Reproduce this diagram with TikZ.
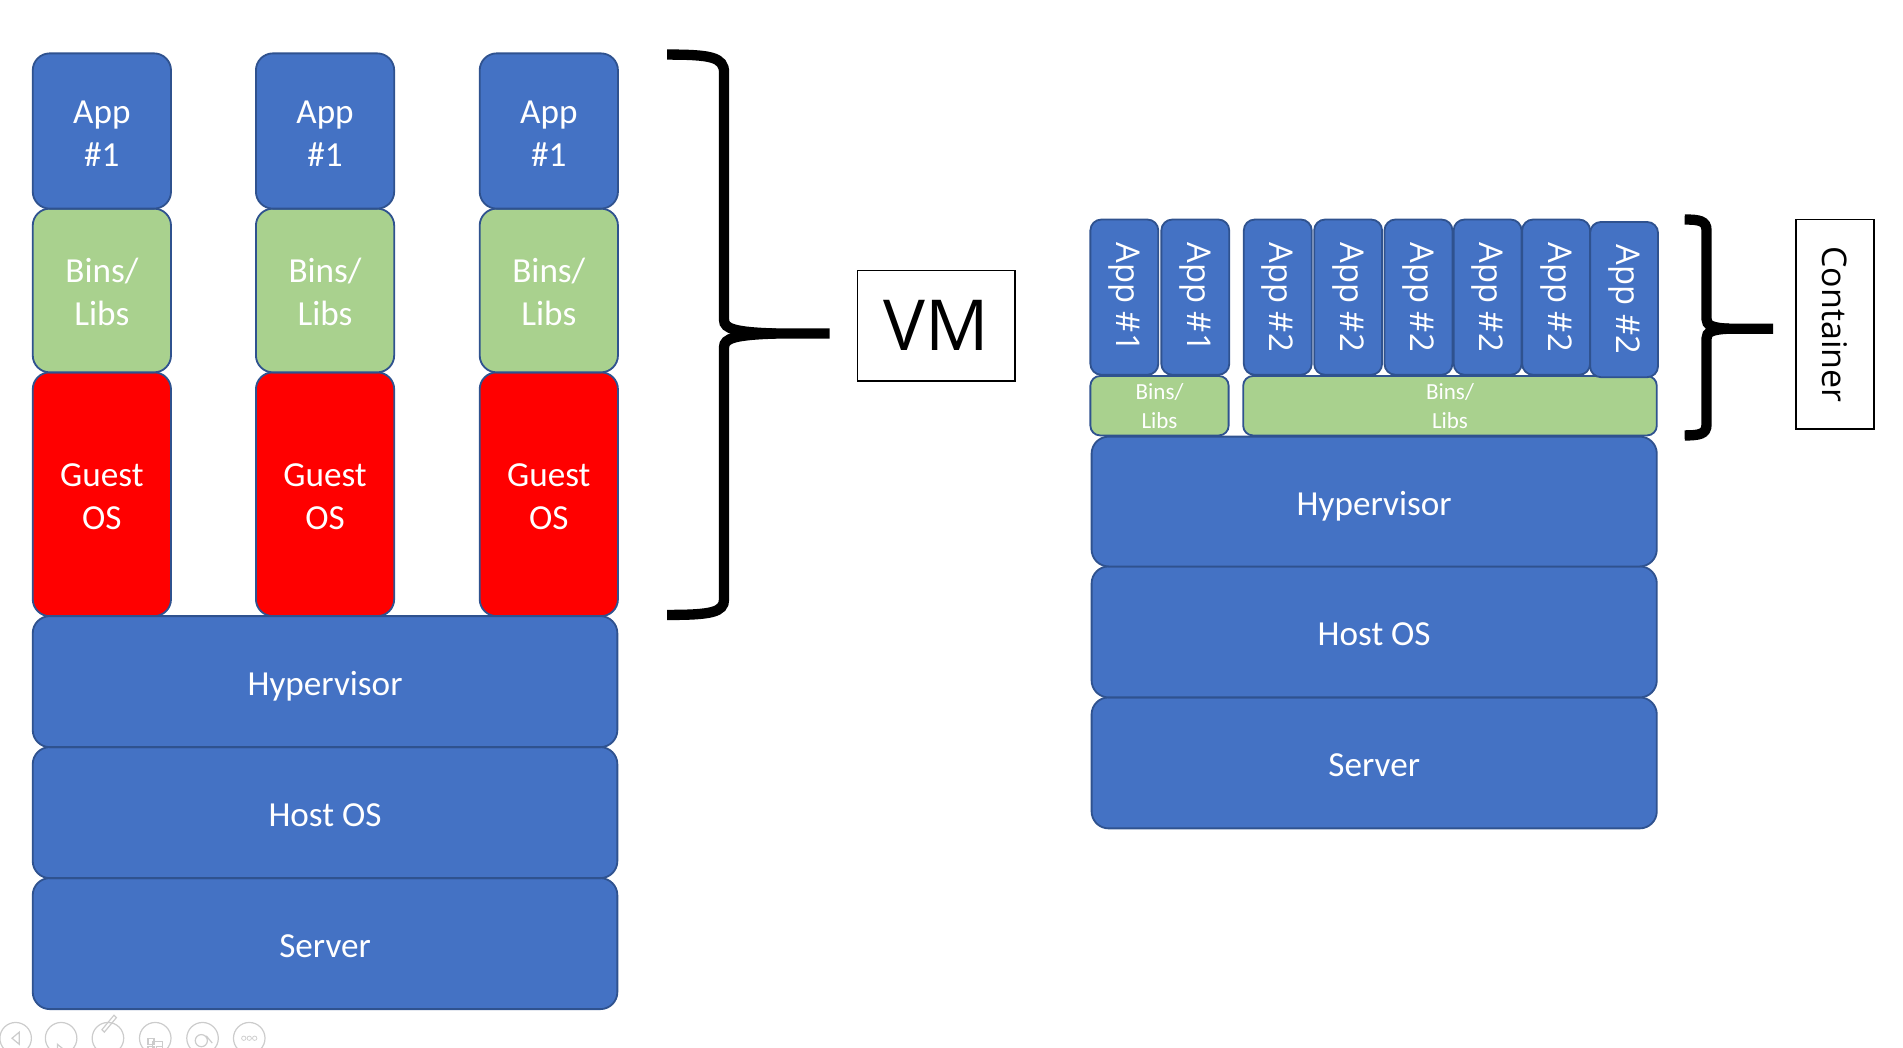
\documentclass[tikz,border=0pt]{standalone}
\usepackage{fontspec}
\setmainfont{Carlito}
\newfontfamily\segoe{Open Sans}
\usepackage{graphicx}
\definecolor{boxblue}{HTML}{4472C4}
\definecolor{edgeblue}{HTML}{2F528F}
\definecolor{libgreen}{HTML}{A9D18E}
\definecolor{osred}{HTML}{FF0000}
\definecolor{toolgray}{HTML}{CCCCCC}
\tikzset{
  layer/.style={draw=edgeblue, line width=1.5pt, rounded corners=14pt, inner sep=0pt, outer sep=0pt,
    text=white, align=center, font=\fontsize{29}{35.5}\selectfont, text height=23pt, text depth=0pt},
  twoline/.style={text height=58.5pt, text depth=0pt},
  bluebox/.style={layer, fill=boxblue},
  greenbox/.style={layer, fill=libgreen},
  redbox/.style={layer, fill=osred},
  smallapp/.style={layer, fill=boxblue, rounded corners=9pt, minimum width=56pt, minimum height=128pt,
    font=\segoe\fontsize{27}{32}\selectfont, text height=, text depth=},
  smalllib/.style={layer, fill=libgreen, rounded corners=8pt, minimum height=49pt,
    font=\fontsize{19}{24}\selectfont, text height=38pt, text depth=0pt},
  labelbox/.style={draw=black, line width=1.5pt, fill=white, inner sep=0pt, outer sep=0pt},
  bracket/.style={draw=black, line width=8.5pt},
  toolicon/.style={draw=toolgray, line width=1pt},
}
\begin{document}
\begin{tikzpicture}[x=1pt,y=-1pt]
\useasboundingbox (0,0) rectangle (1569,864);
% ---------- VM stack ----------
\foreach \cx/\n in {84/a,268/b,452.5/c}{
  \node[redbox, twoline, minimum width=114pt, minimum height=201pt] (guest\n) at (\cx,407.5) {Guest\\OS};
  \node[greenbox, twoline, minimum width=114pt, minimum height=135pt] (bins\n) at (\cx,239.5) {Bins/\\Libs};
  \node[bluebox, twoline, minimum width=114pt, minimum height=128pt] (app\n) at (\cx,108) {App\\\#1};
}
\node[bluebox, minimum width=482pt, minimum height=108pt] (lserver) at (268,778) {Server};
\node[bluebox, minimum width=482pt, minimum height=108pt] (lhost) at (268,670) {Host OS};
\node[bluebox, minimum width=482pt, minimum height=108pt] (lhyper) at (268,562) {Hypervisor};

% VM brace
\coordinate (vmtip) at (684,275);
\draw[bracket] (550,45) .. controls (586,45) and (597,47) .. (597,60) -- (597,264)
   .. controls (597,271) and (606,274) .. (640,275) -- (vmtip);
\draw[bracket] (640,275) .. controls (606,276) and (597,279) .. (597,286) -- (597,494)
   .. controls (597,505) and (586,507) .. (550,507);
\node[labelbox, minimum width=130pt, minimum height=91pt, font=\segoe\fontsize{58}{60}\selectfont] (vm) at (772,268.5) {VM};

% ---------- Container stack ----------
\node[bluebox, minimum width=466pt, minimum height=108pt] (rserver) at (1133,629) {Server};
\node[bluebox, minimum width=466pt, minimum height=108pt] (rhost) at (1133,521) {Host OS};
\node[bluebox, minimum width=466pt, minimum height=107pt] (rhyper) at (1133,413.5) {Hypervisor};
\node[smalllib, minimum width=114pt] (libone) at (956,334.5) {Bins/\\Libs};
\node[smalllib, minimum width=341pt] (libtwo) at (1195.5,334.5) {Bins/\\Libs};
\node[smallapp] (ca1) at (927,245) {\rotatebox{-90}{App \#1}};
\node[smallapp] (ca2) at (985.5,245) {\rotatebox{-90}{App \#1}};
\node[smallapp] (cb1) at (1053.5,245) {\rotatebox{-90}{App \#2}};
\node[smallapp] (cb2) at (1111.5,245) {\rotatebox{-90}{App \#2}};
\node[smallapp] (cb3) at (1169.5,245) {\rotatebox{-90}{App \#2}};
\node[smallapp] (cb4) at (1226.5,245) {\rotatebox{-90}{App \#2}};
\node[smallapp] (cb5) at (1283,245) {\rotatebox{-90}{App \#2}};
\node[smallapp] (cb6) at (1339,247) {\rotatebox{-90}{App \#2}};

% Container brace
\coordinate (cttip) at (1462,271);
\draw[bracket] (1389,181) .. controls (1401,181) and (1407,182) .. (1407,190) -- (1407,263)
   .. controls (1407,268) and (1411,270.5) .. (1426,271) -- (cttip);
\draw[bracket] (1426,271) .. controls (1411,271.5) and (1407,274) .. (1407,279) -- (1407,350)
   .. controls (1407,358) and (1401,359) .. (1389,359);
\node[labelbox, minimum width=64pt, minimum height=173pt] (ctbox) at (1513,267.5)
   {\rotatebox{-90}{\segoe\fontsize{28}{30}\selectfont Container}};

% ---------- slide-show toolbar ----------
\foreach \tx/\n in {12.9/t1,50.4/t2,89/t3,128/t4,167/t5,205.5/t6}{
  \node[toolicon, circle, minimum size=26pt, inner sep=0pt] (\n) at (\tx,856) {};
}
\draw[toolicon] ([xshift=-3pt]t1.center) -- ++(6,-5) -- ++(0,10) -- cycle;
\draw[toolicon] ([xshift=-3pt,yshift=-5pt]t2.center) -- ++(0,10) -- ++(6,-5) -- cycle;
\draw[toolicon] ([xshift=-5pt,yshift=7pt]t3.center) -- ++(10,-12) -- ++(2,2) -- ++(-10,12) -- cycle;
\draw[toolicon] ([xshift=-6pt,yshift=-7pt]t4.center) rectangle ++(5,5)
  ([xshift=1pt,yshift=-7pt]t4.center) rectangle ++(5,5)
  ([xshift=-6pt,yshift=0pt]t4.center) rectangle ++(5,5)
  ([xshift=-2pt,yshift=-3pt]t4.center) rectangle ++(8,10);
\draw[toolicon] ([xshift=-1pt,yshift=-2pt]t5.center) circle (5pt)
  ([xshift=3pt,yshift=2pt]t5.center) -- ++(5,6);
\foreach \d in {-4.5,0,4.5}{\draw[toolicon, line width=0.6pt] ([xshift=\d pt]t6.center) circle (1.8pt);}
\end{tikzpicture}
\end{document}
